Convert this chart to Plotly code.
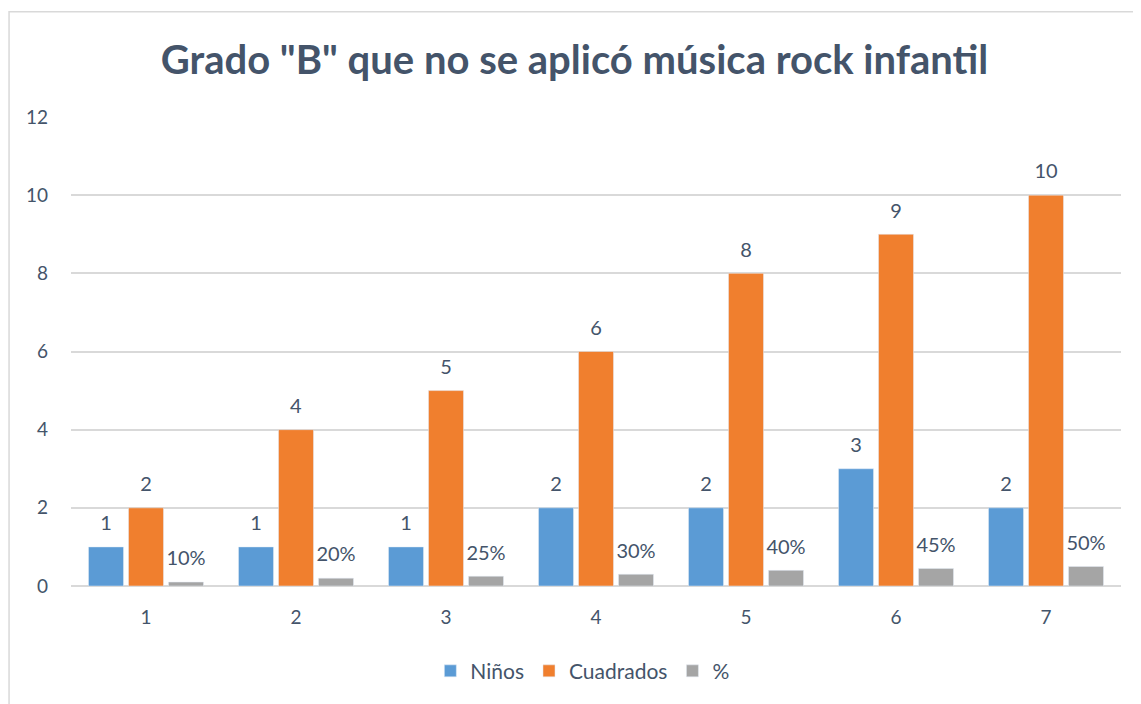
import plotly.graph_objects as go

categorias = ["1", "2", "3", "4", "5", "6", "7"]
ninos = [1, 1, 1, 2, 2, 3, 2]
cuadrados = [2, 4, 5, 6, 8, 9, 10]
porcentaje = [0.10, 0.20, 0.25, 0.30, 0.40, 0.45, 0.50]
y_ticks = [0, 2, 4, 6, 8, 10, 12]

TXT = "#44546A"
FONT = "Lato"
# label font is set in span; the small base size controls the spacer line height
lbl = "<span style='font-size:20px'>%s</span><br> "

common = dict(textposition="outside", cliponaxis=False, constraintext="none",
              textfont=dict(size=9, color=TXT, family=FONT))

fig = go.Figure()
fig.add_trace(go.Bar(name="Niños", x=categorias, y=ninos, marker_color="#5B9BD5",
                     texttemplate=lbl % "%{y}", **common))
fig.add_trace(go.Bar(name="Cuadrados", x=categorias, y=cuadrados, marker_color="#F07F2E",
                     texttemplate=lbl % "%{y}", **common))
fig.add_trace(go.Bar(name="%", x=categorias, y=porcentaje, marker_color="#A5A5A5",
                     texttemplate=lbl % "%{y:.0%}", **common))

# page body has an 8px margin, so the figure is 8px smaller and margins shifted
fig.update_layout(
    width=1133, height=696,
    margin=dict(l=63, r=20, t=109, b=115),
    paper_bgcolor="white", plot_bgcolor="white",
    barmode="group", bargap=0.2, bargroupgap=0.125,
    font=dict(family=FONT, size=18, color=TXT),
    title=dict(text="<b>Grado \"B\" que no se aplicó música rock infantil</b>",
               x=0.5, xanchor="center", y=0.925, yanchor="middle",
               font=dict(size=40, color=TXT, family=FONT)),
    legend=dict(orientation="h", x=0.487, xanchor="center", y=-0.138, yanchor="top",
                font=dict(size=21, color=TXT, family=FONT), itemwidth=30,
                traceorder="normal"),
    uniformtext=dict(mode=False),
    shapes=[dict(type="rect", xref="paper", yref="paper",
                 x0=-0.059, x1=1.1, y0=-0.3, y1=1.2246,
                 line=dict(color="#D9D9D9", width=1.5), fillcolor="rgba(0,0,0,0)",
                 layer="below")],
)
fig.update_yaxes(range=[0, 12], tickvals=y_ticks, showgrid=True, gridcolor="#D9D9D9",
                 gridwidth=1.5, zeroline=True, zerolinecolor="#D9D9D9", zerolinewidth=1.5,
                 showline=False, ticks="", ticklabelstandoff=22,
                 tickfont=dict(size=19, color=TXT, family=FONT))
fig.update_xaxes(showgrid=False, showline=False, ticks="", ticklabelstandoff=18,
                 tickfont=dict(size=19, color=TXT, family=FONT))

fig.write_html("out.html")
